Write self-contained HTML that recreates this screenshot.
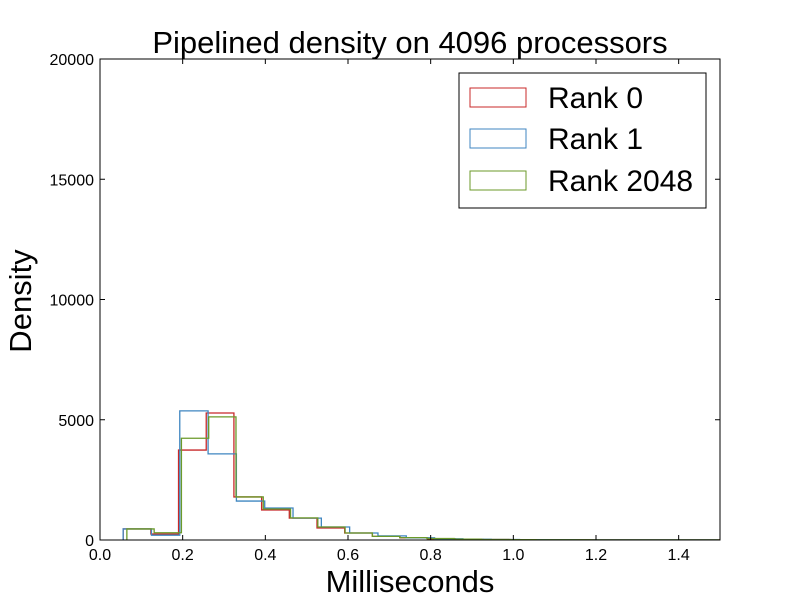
<!DOCTYPE html>
<html><head><meta charset="utf-8"><style>
body{margin:0;background:#fff}
svg text{font-family:"Liberation Sans","DejaVu Sans",sans-serif}
</style></head><body>
<svg id="chart" width="800" height="600" xmlns="http://www.w3.org/2000/svg">
<defs><clipPath id="plotclip"><rect x="100" y="59" width="620" height="481"/></clipPath></defs>
<rect width="800" height="600" fill="#fff"/>
<g id="series" clip-path="url(#plotclip)"></g>
<rect x="100" y="59" width="620" height="481" fill="none" stroke="#000" stroke-width="1"/>
<g id="ticks"></g>
<text x="410" y="53" font-size="31" text-anchor="middle">Pipelined density on 4096 processors</text>
<text x="410" y="592" font-size="31" text-anchor="middle">Milliseconds</text>
<text transform="translate(31,301) rotate(-90)" font-size="31" text-anchor="middle">Density</text>
<g>
<rect x="459" y="73" width="247" height="135" fill="#fff" stroke="#000"/>
<g><rect x="470" y="88" width="56" height="19" fill="none" stroke="#c8282a"/><text x="548" y="108" font-size="30">Rank 0</text></g>
<g><rect x="470" y="129" width="56" height="19" fill="none" stroke="#3f86c0"/><text x="548" y="149" font-size="30">Rank 1</text></g>
<g><rect x="470" y="171" width="56" height="19" fill="none" stroke="#6b9a2a"/><text x="548" y="191" font-size="30">Rank 2048</text></g>
</g>
</svg>
<script>
const xTicks=[0.0,0.2,0.4,0.6,0.8,1.0,1.2,1.4];
const xTickLabels=["0.0","0.2","0.4","0.6","0.8","1.0","1.2","1.4"];
const yTicks=[0,5000,10000,15000,20000];
const yTickLabels=["0","5000","10000","15000","20000"];
const rank0Start=0.056, rank0Width=0.067;
const rank0Values=[460,250,3740,5280,1790,1250,910,500,290,150,90,50,30,20,15,10,8,5,4,3,2,2];
const rank1Start=0.056, rank1Width=0.0685;
const rank1Values=[460,200,5370,3580,1620,1330,910,540,290,170,90,50,30,20,12,8,6,4,3,2,2];
const rank2048Start=0.065, rank2048Width=0.066;
const rank2048Values=[460,300,4230,5120,1790,1290,920,540,290,150,100,60,35,20,15,10,8,5,4,3,2,2];
const X0=100,X1=720,Y0=540,Y1=59;
const xs=v=>X0+v/1.5*(X1-X0);
const ys=v=>Y0-v/20000*(Y0-Y1);
const NS="http://www.w3.org/2000/svg";
const sg=document.getElementById('series');
function step(start,w,vals,color,name){
  let d="M"+xs(start)+","+ys(0);
  vals.forEach((v,i)=>{const a=xs(start+i*w),b=xs(start+(i+1)*w);d+=" L"+a+","+ys(v)+" L"+b+","+ys(v);});
  d+=" L"+xs(start+vals.length*w)+","+ys(0);
  const p=document.createElementNS(NS,'path');
  p.setAttribute('d',d);p.setAttribute('fill','none');p.setAttribute('stroke',color);p.setAttribute('stroke-width','1.3');
  
  
  sg.appendChild(p);
}
step(rank0Start,rank0Width,rank0Values,'#c8282a','series-rank-0');
step(rank1Start,rank1Width,rank1Values,'#3f86c0','series-rank-1');
step(rank2048Start,rank2048Width,rank2048Values,'#6b9a2a','series-rank-2048');
const tg=document.getElementById('ticks');
function el(tag,attrs,txt){const e=document.createElementNS(NS,tag);for(const k in attrs)e.setAttribute(k,attrs[k]);if(txt!==undefined)e.textContent=txt;tg.appendChild(e);return e;}
xTicks.forEach((t,i)=>{const x=xs(t);
  el('line',{x1:x,x2:x,y1:Y0,y2:Y0-5,stroke:'#000'});
  el('line',{x1:x,x2:x,y1:Y1,y2:Y1+5,stroke:'#000'});
  const l=el('text',{x:x,y:Y0+20,'font-size':16,'text-anchor':'middle'},xTickLabels[i]);
  
  
});
yTicks.forEach((t,i)=>{const y=ys(t);
  el('line',{x1:X0,x2:X0+5,y1:y,y2:y,stroke:'#000'});
  el('line',{x1:X1,x2:X1-5,y1:y,y2:y,stroke:'#000'});
  const l=el('text',{x:X0-6,y:y+6,'font-size':16,'text-anchor':'end'},yTickLabels[i]);
  
  
});
</script>
</body></html>
